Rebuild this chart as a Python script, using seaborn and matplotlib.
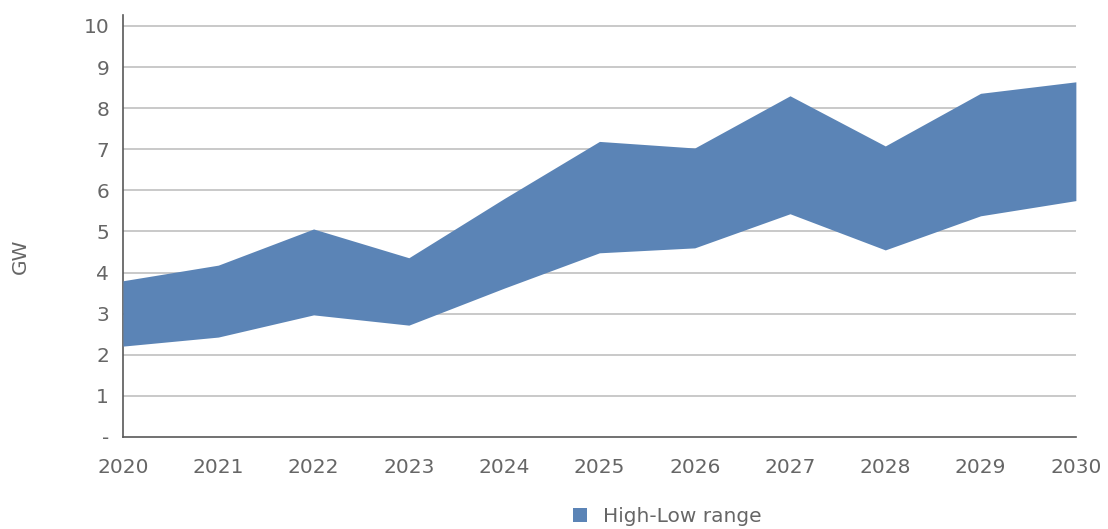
import pandas as pd
import matplotlib.pyplot as plt
import seaborn as sns
from matplotlib.patches import Patch

years = [2020, 2021, 2022, 2023, 2024, 2025, 2026, 2027, 2028, 2029, 2030]
high = [3.80, 4.18, 5.06, 4.36, 5.80, 7.19, 7.03, 8.30, 7.08, 8.36, 8.64]
low = [2.21, 2.43, 2.97, 2.72, 3.62, 4.48, 4.60, 5.43, 4.55, 5.38, 5.75]
y_ticks = [0, 1, 2, 3, 4, 5, 6, 7, 8, 9, 10]
y_ticklabels = ["-", "1", "2", "3", "4", "5", "6", "7", "8", "9", "10"]

df = pd.DataFrame({"Year": years, "High": high, "Low": low})

sns.set_style("white")
plt.rcParams["font.family"] = ["DejaVu Sans"]

fill_color = "#5b84b6"
text_color = "#666666"
fs = 14.5

fig = plt.figure(figsize=(11.08, 5.29), dpi=100)
ax = fig.add_axes([0.111, 0.174, 0.860, 0.798])

# boundaries (invisible) + band
sns.lineplot(data=df, x="Year", y="High", ax=ax, color=fill_color, linewidth=0)
sns.lineplot(data=df, x="Year", y="Low", ax=ax, color=fill_color, linewidth=0)
ax.fill_between(df["Year"], df["Low"], df["High"], color=fill_color, linewidth=0, zorder=3)

ax.set_xlim(2020, 2030)
ax.set_ylim(0, 10.27)
ax.set_xticks(years)
ax.set_xticklabels([str(y) for y in years], fontsize=fs, color=text_color)
ax.set_yticks(y_ticks)
ax.set_yticklabels(y_ticklabels, fontsize=fs, color=text_color)

for y in y_ticks[1:]:
    ax.axhline(y, color="#c0c0c0", linewidth=1.2, zorder=1)

for s in ["top", "right"]:
    ax.spines[s].set_visible(False)
for s in ["left", "bottom"]:
    ax.spines[s].set_color("#595959")
    ax.spines[s].set_linewidth(1.2)

ax.tick_params(axis="x", direction="out", length=7, width=1.2, color="#595959", pad=8)
ax.tick_params(axis="y", length=0, pad=10)

ax.set_xlabel("")
ax.set_ylabel("GW", fontsize=fs, color=text_color)
ax.yaxis.set_label_coords(-0.098, 0.429)

handle = Patch(facecolor=fill_color, edgecolor="none", label="High-Low range")
fig.legend(handles=[handle], loc="center", bbox_to_anchor=(0.602, 0.024), frameon=False,
           handlelength=0.7, handleheight=0.7, handletextpad=0.8,
           prop={"size": fs}, labelcolor=text_color)

fig.savefig("out.png", dpi=100)
